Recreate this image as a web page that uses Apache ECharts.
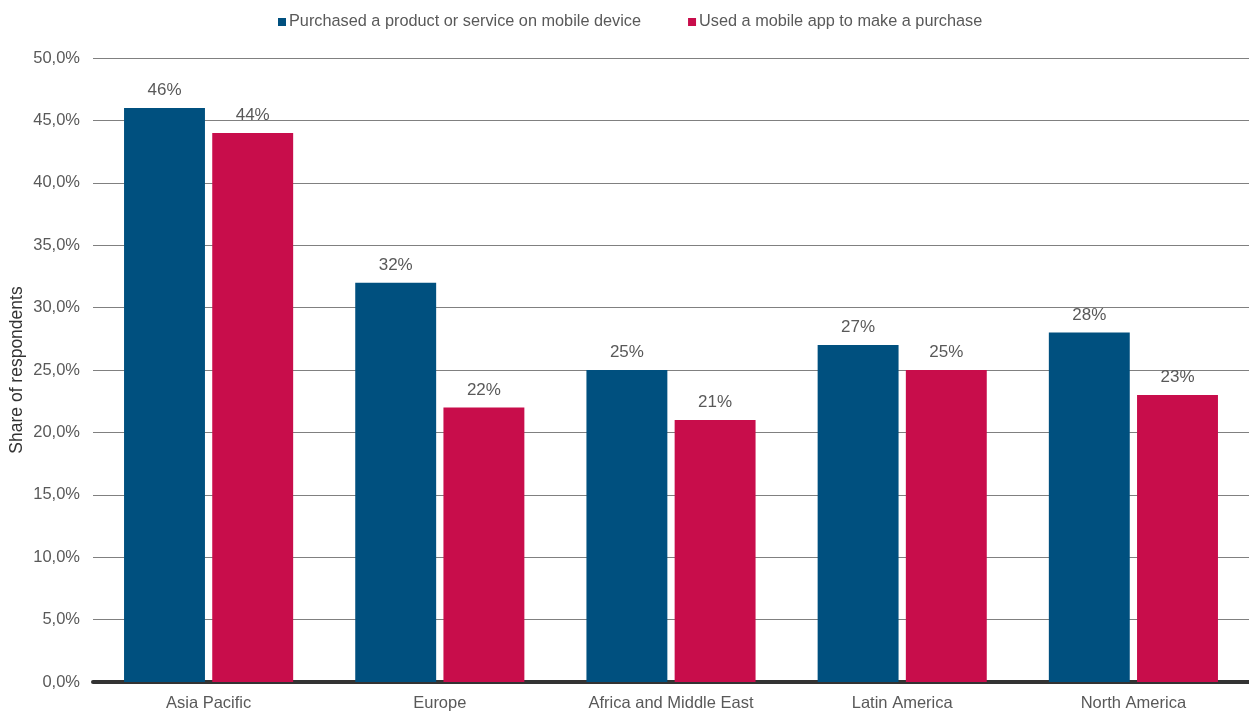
<!DOCTYPE html>
<html>
<head>
<meta charset="utf-8">
<script src="https://cdn.jsdelivr.net/npm/echarts@6/dist/echarts.min.js"></script>
<style>
  html, body { margin: 0; padding: 0; background: #fff; }
  #chart { width: 1249px; height: 711px; }
</style>
</head>
<body>
<div id="chart"></div>
<script>
// regions and shares (%)
var regions = ['Asia Pacific', 'Europe', 'Africa and Middle East', 'Latin America', 'North America'];
var purchasedMobile = [46, 32, 25, 27, 28];
var usedApp = [44, 22, 21, 25, 23];
var seriesNames = ['Purchased a product or service on mobile device', 'Used a mobile app to make a purchase'];

var chart = echarts.init(document.getElementById('chart'));

var labelStyle = {
  show: true,
  position: 'top',
  distance: 9,
  color: '#595959',
  fontSize: 17,
  fontFamily: 'Liberation Sans, Arial, sans-serif',
  formatter: function (p) { return p.value + '%'; }
};

var option = {
  color: ['#00507f', '#c80d4b'],
  textStyle: { fontFamily: 'Liberation Sans, Arial, sans-serif' },
  legend: {
    data: seriesNames,
    top: 9,
    left: 273,
    itemWidth: 8,
    itemHeight: 8,
    itemGap: 47,
    icon: 'rect',
    textStyle: { color: '#595959', fontSize: 16.3, padding: [0, 0, 0, -2] }
  },
  grid: { left: 93, right: 0, top: 58, bottom: 29, containLabel: false, outerBoundsMode: 'none' },
  xAxis: {
    type: 'category',
    data: regions,
    axisLine: { show: true, lineStyle: { color: '#333333', width: 4 } },
    axisTick: { show: false },
    axisLabel: { color: '#595959', fontSize: 16.5, margin: 13 }
  },
  yAxis: {
    type: 'value',
    min: 0,
    max: 50,
    interval: 5,
    name: 'Share of respondents',
    nameLocation: 'middle',
    nameGap: 67,
    nameMoveOverlap: false,
    nameTextStyle: { color: '#333333', fontSize: 17.5 },
    axisLine: { show: false },
    axisTick: { show: false },
    axisLabel: {
      color: '#595959',
      fontSize: 16.5,
      margin: 13,
      formatter: function (v) { return v.toFixed(1).replace('.', ',') + '%'; }
    },
    splitLine: { lineStyle: { color: '#808080', width: 1 } }
  },
  series: [
    {
      name: seriesNames[0],
      type: 'bar',
      data: purchasedMobile,
      barWidth: '35%',
      barGap: '9%',
      label: labelStyle
    },
    {
      name: seriesNames[1],
      type: 'bar',
      data: usedApp,
      barWidth: '35%',
      label: labelStyle
    }
  ]
};

chart.setOption(option);
</script>
</body>
</html>
